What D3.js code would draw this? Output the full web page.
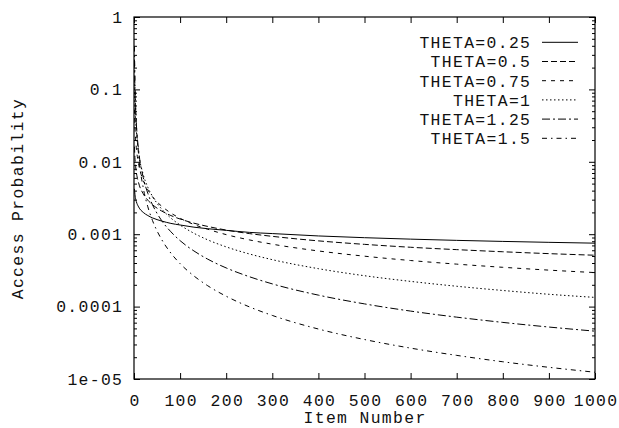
<!DOCTYPE html>
<html>
<head>
<meta charset="utf-8">
<script src="https://cdn.jsdelivr.net/npm/d3@7"></script>
<style>
  body { margin: 0; background: #fff; }
  text { font-family: "Liberation Mono", "DejaVu Sans Mono", monospace; font-size: 16.4px; letter-spacing: 1.35px; fill: #111; }
</style>
</head>
<body>
<svg width="619" height="428"></svg>
<script>
var items = [1, 2, 3, 5, 10, 20, 30, 40, 50, 60, 80, 100, 130, 160, 200, 250, 300, 400, 500, 600, 700, 800, 900, 1000];

// access probability per item, one list per THETA
var theta025 = [0.00423, 0.00356, 0.00321, 0.00283, 0.00238, 0.00200, 0.00181, 0.00168, 0.00159, 0.00152, 0.00141, 0.00134, 0.00125, 0.00119, 0.00113, 0.00106, 0.00102, 0.000946, 0.000895, 0.000855, 0.000822, 0.000795, 0.000772, 0.000752];
var theta05  = [0.0162, 0.0114, 0.00934, 0.00724, 0.00512, 0.00362, 0.00295, 0.00256, 0.00229, 0.00209, 0.00181, 0.00162, 0.00142, 0.00128, 0.00114, 0.00102, 0.000934, 0.000809, 0.000724, 0.000660, 0.000612, 0.000572, 0.000539, 0.000512];
var theta075 = [0.0525, 0.0312, 0.0230, 0.0157, 0.00934, 0.00555, 0.00410, 0.00330, 0.00279, 0.00244, 0.00196, 0.00166, 0.00136, 0.00117, 0.000987, 0.000835, 0.000728, 0.000587, 0.000497, 0.000433, 0.000386, 0.000349, 0.000319, 0.000295];
var theta1   = [0.134, 0.0668, 0.0445, 0.0267, 0.0134, 0.00668, 0.00445, 0.00334, 0.00267, 0.00223, 0.00167, 0.00134, 0.00103, 0.000835, 0.000668, 0.000534, 0.000445, 0.000334, 0.000267, 0.000223, 0.000191, 0.000167, 0.000148, 0.000134];
var theta125 = [0.258, 0.108, 0.0652, 0.0344, 0.0145, 0.00609, 0.00367, 0.00256, 0.00194, 0.00154, 0.00108, 0.000814, 0.000587, 0.000452, 0.000342, 0.000259, 0.000206, 0.000144, 0.000109, 0.0000867, 0.0000715, 0.0000605, 0.0000522, 0.0000458];
var theta15  = [0.392, 0.139, 0.0755, 0.0351, 0.0124, 0.00439, 0.00239, 0.00155, 0.00111, 0.000844, 0.000548, 0.000392, 0.000265, 0.000194, 0.000139, 0.0000993, 0.0000755, 0.0000490, 0.0000351, 0.0000267, 0.0000212, 0.0000173, 0.0000145, 0.0000124];

var seriesNames = ["THETA=0.25", "THETA=0.5", "THETA=0.75", "THETA=1", "THETA=1.25", "THETA=1.5"];
var seriesValues = [theta025, theta05, theta075, theta1, theta125, theta15];

var xTicks = [0, 100, 200, 300, 400, 500, 600, 700, 800, 900, 1000];
var yTicks = [1, 0.1, 0.01, 0.001, 0.0001, 0.00001];
var yTickLabels = ["1", "0.1", "0.01", "0.001", "0.0001", "1e-05"];

// gnuplot-ish dash patterns
var dashes = [null, "6,3", "4,5", "1.5,2.5", "8,3,2,3", "5,4,1.5,4"];

var svg = d3.select("svg"),
    pL = 134, pR = 595, pT = 17, pB = 379;

var x = d3.scaleLinear().domain([0, 1000]).range([pL, pR]);
var y = d3.scaleLog().domain([0.00001, 1]).range([pB, pT]);

var minor = [];
yTicks.slice(0, 5).forEach(function(t) {
    for (var k = 2; k <= 9; k++) minor.push(t / 10 * k);
});

// left axis with labels (letter-spacing leaves a gap after the last glyph)
svg.append("g").attr("transform", "translate(" + pL + ",0)")
    .call(d3.axisLeft(y).tickValues(yTicks).tickSize(-6).tickPadding(10.7)
        .tickFormat(function(d, i) { return yTickLabels[i]; }));
svg.append("g").attr("transform", "translate(" + pL + ",0)")
    .call(d3.axisLeft(y).tickValues(minor).tickSize(-3).tickFormat(""));
// right mirror
svg.append("g").attr("transform", "translate(" + pR + ",0)")
    .call(d3.axisRight(y).tickValues(yTicks).tickSize(-6).tickFormat(""));
svg.append("g").attr("transform", "translate(" + pR + ",0)")
    .call(d3.axisRight(y).tickValues(minor).tickSize(-3).tickFormat(""));

// bottom + top
var gb = svg.append("g").attr("transform", "translate(0," + pB + ")")
    .call(d3.axisBottom(x).tickValues(xTicks).tickSize(-6).tickFormat(d3.format("d")));
gb.selectAll("text").attr("y", 26.5).attr("dy", null).attr("dx", "0.6px");
svg.append("g").attr("transform", "translate(0," + pT + ")")
    .call(d3.axisTop(x).tickValues(xTicks).tickSize(-6).tickFormat(""));

svg.selectAll(".domain").remove();
svg.selectAll(".tick line").attr("stroke", "#000");
svg.selectAll("g").attr("font-family", null).attr("font-size", null);

svg.append("rect")
    .attr("x", pL).attr("y", pT)
    .attr("width", pR - pL).attr("height", pB - pT)
    .attr("fill", "none").attr("stroke", "#000").attr("stroke-width", 1.2);

// axis titles
svg.append("text")
    .attr("x", (pL + pR) / 2 + 0.6).attr("y", 423)
    .attr("text-anchor", "middle")
    .text("Item Number");
svg.append("text")
    .attr("transform", "translate(23," + ((pT + pB) / 2 + 0.6) + ") rotate(-90)")
    .attr("text-anchor", "middle")
    .text("Access Probability");

// curves
svg.append("clipPath").attr("id", "clip")
    .append("rect").attr("x", pL).attr("y", pT)
    .attr("width", pR - pL).attr("height", pB - pT);

var line = d3.line()
    .x(function(d) { return x(d[0]); })
    .y(function(d) { return y(d[1]); })
    .curve(d3.curveMonotoneX);

seriesValues.forEach(function(vals, i) {
    var pts = items.map(function(it, j) { return [it, vals[j]]; });
    svg.append("path")
        .attr("clip-path", "url(#clip)")
        .attr("d", line(pts))
        .attr("fill", "none")
        .attr("stroke", "#000")
        .attr("stroke-width", 1)
        .attr("stroke-dasharray", dashes[i]);
});

// legend
var lg = svg.append("g");
seriesNames.forEach(function(name, i) {
    var ly = 42.3 + i * 19.2;
    lg.append("text")
        .attr("x", 531.3).attr("y", ly).attr("dy", "0.36em")
        .attr("text-anchor", "end")
        .text(name);
    lg.append("line")
        .attr("x1", 542).attr("x2", 578)
        .attr("y1", ly).attr("y2", ly)
        .attr("stroke", "#000").attr("stroke-width", 1)
        .attr("stroke-dasharray", dashes[i]);
});
</script>
</body>
</html>
